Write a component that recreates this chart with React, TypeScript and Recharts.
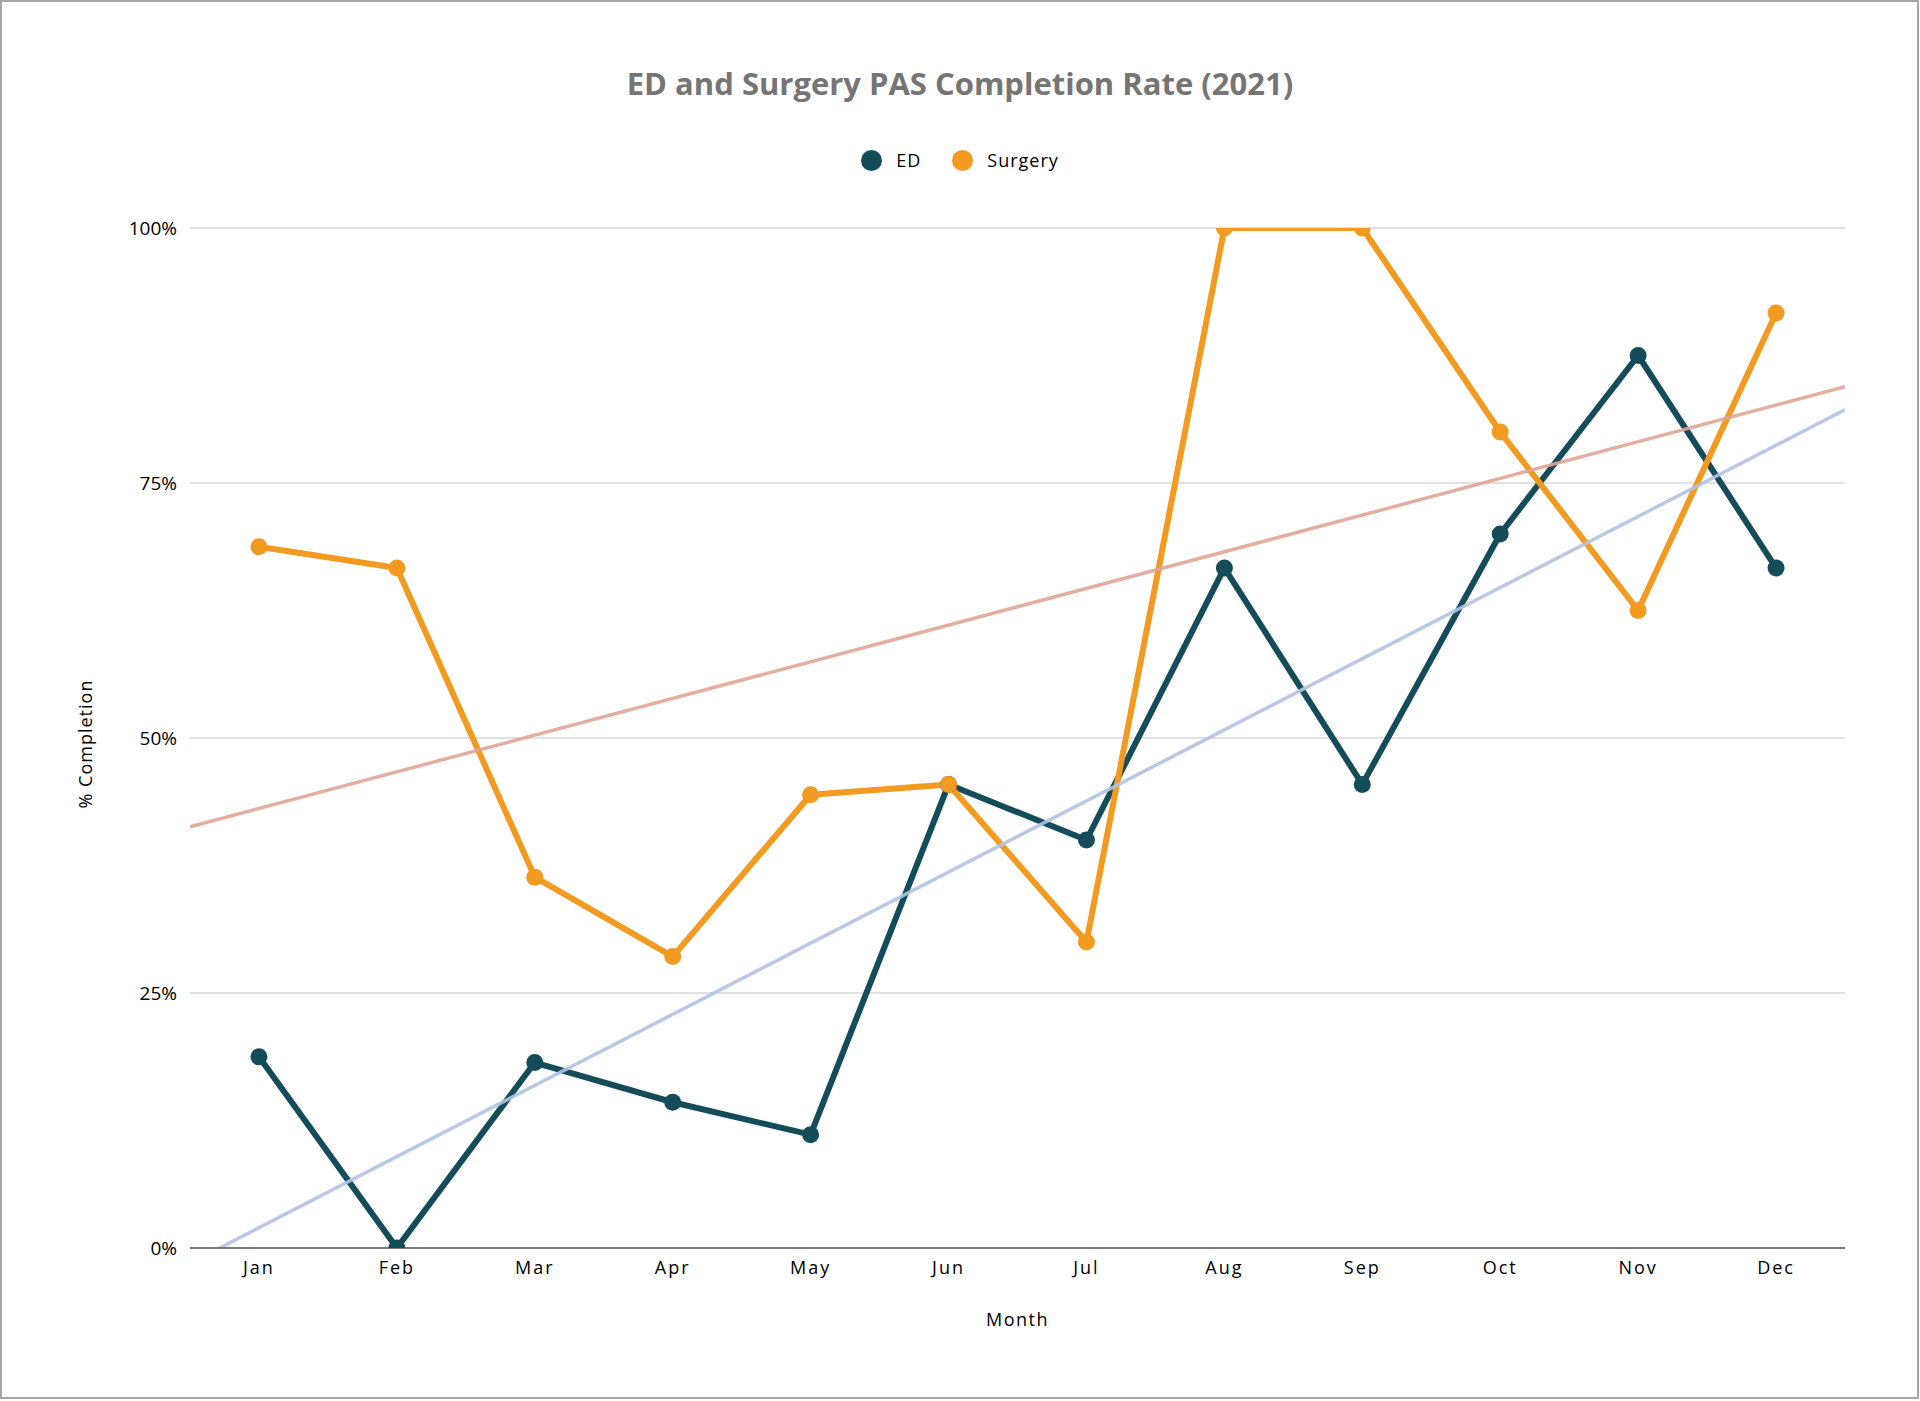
import React from 'react';
import {
  LineChart,
  Line,
  XAxis,
  YAxis,
  CartesianGrid,
  ReferenceLine,
  Legend,
  Label,
} from 'recharts';

const months = ['Jan', 'Feb', 'Mar', 'Apr', 'May', 'Jun', 'Jul', 'Aug', 'Sep', 'Oct', 'Nov', 'Dec'];
const edRates = [18.75, 0, 18.18, 14.29, 11.11, 45.45, 40, 66.67, 45.45, 70, 87.5, 66.67];
const surgeryRates = [68.75, 66.67, 36.36, 28.57, 44.44, 45.45, 30, 100, 100, 80, 62.5, 91.67];
const yTicks = [0, 25, 50, 75, 100];

const TITLE = 'ED and Surgery PAS Completion Rate (2021)';
const ED_COLOR = '#154c59';
const SURGERY_COLOR = '#f39a21';
const ED_TREND_COLOR = '#b0c3e5';
const SURGERY_TREND_COLOR = '#e0a596';
const FONT = "'Open Sans', sans-serif";

const data = months.map((m, i) => ({ idx: i + 1, month: m, ed: edRates[i], surgery: surgeryRates[i] }));

// Linear least-squares trendline (as the spreadsheet trendline), evaluated at the plot edges.
function trend(values: number[]) {
  const n = values.length;
  const xs = values.map((_, i) => i + 1);
  const mx = xs.reduce((a, b) => a + b, 0) / n;
  const my = values.reduce((a, b) => a + b, 0) / n;
  let sxy = 0;
  let sxx = 0;
  for (let i = 0; i < n; i++) {
    sxy += (xs[i] - mx) * (values[i] - my);
    sxx += (xs[i] - mx) * (xs[i] - mx);
  }
  const slope = sxy / sxx;
  const f = (x: number) => my + slope * (x - mx);
  return [
    { x: 0.5, y: f(0.5) },
    { x: n + 0.5, y: f(n + 0.5) },
  ];
}

const edTrend = trend(edRates);
const surgeryTrend = trend(surgeryRates);

const LegendContent = (props: any) => {
  const payload = (props.payload || []).filter((p: any) => p.value === 'ED' || p.value === 'Surgery');
  return (
    <div
      style={{
        display: 'flex',
        justifyContent: 'center',
        alignItems: 'center',
        width: 1920,
        fontFamily: FONT,
        fontSize: 18,
        letterSpacing: 1,
        color: '#000',
      }}
    >
      {payload.map((p: any, i: number) => (
        <div key={p.value} style={{ display: 'flex', alignItems: 'center', marginLeft: i === 0 ? 0 : 31 }}>
          <svg width={21} height={21} style={{ display: 'block' }}>
            <circle cx={10.5} cy={10.5} r={10.5} fill={p.color} />
          </svg>
          <span style={{ marginLeft: 14, lineHeight: '24px' }}>{p.value}</span>
        </div>
      ))}
    </div>
  );
};

export default function App() {
  return (
    <div style={{ position: 'absolute', left: 0, top: 0, width: 1920, height: 1401, background: '#fff' }}>
      <div
        style={{
          position: 'absolute',
          left: 0,
          top: 0,
          width: 1919,
          height: 1399,
          boxSizing: 'border-box',
          border: '2px solid #a6a6a6',
          pointerEvents: 'none',
        }}
      />
      <div
        style={{
          position: 'absolute',
          left: 0,
          top: 62,
          width: 1920,
          textAlign: 'center',
          fontFamily: FONT,
          fontWeight: 700,
          fontSize: 31,
          color: '#757575',
          lineHeight: 'normal',
        }}
      >
        {TITLE}
      </div>
      <LineChart
        width={1920}
        height={1401}
        data={data}
        margin={{ top: 228, right: 75, bottom: 0, left: 0 }}
        style={{ fontFamily: FONT }}
      >
        <CartesianGrid vertical={false} stroke="#d9d9d9" strokeWidth={1.5} />
        <XAxis
          dataKey="idx"
          type="number"
          domain={[0.5, 12.5]}
          ticks={months.map((_, i) => i + 1)}
          interval={0}
          tickFormatter={(v: number) => months[v - 1]}
          height={153}
          tickLine={false}
          tickSize={6}
          tickMargin={7}
          axisLine={{ stroke: '#595959', strokeWidth: 1.5 }}
          tick={{ fill: '#000', fontSize: 18, fontFamily: FONT, letterSpacing: 2 }}
        >
          <Label
            content={(p: any) => {
              const vb = p.viewBox || {};
              return (
                <text
                  x={vb.x + vb.width / 2}
                  y={vb.y + 78}
                  textAnchor="middle"
                  fill="#000"
                  fontSize={18}
                  fontFamily={FONT}
                  letterSpacing={1.5}
                >
                  Month
                </text>
              );
            }}
          />
        </XAxis>
        <YAxis
          type="number"
          domain={[0, 100]}
          ticks={yTicks}
          allowDataOverflow
          width={190}
          tickLine={false}
          axisLine={false}
          tickSize={6}
          tickMargin={7}
          tickFormatter={(v: number) => `${v}%`}
          tick={{ fill: '#000', fontSize: 19, fontFamily: FONT }}
        >
          <Label
            content={(p: any) => {
              const vb = p.viewBox || {};
              const cx = vb.x + 85;
              const cy = vb.y + vb.height / 2 + 6;
              return (
                <text
                  x={cx}
                  y={cy}
                  transform={`rotate(-90 ${cx} ${cy})`}
                  textAnchor="middle"
                  dominantBaseline="central"
                  fill="#000"
                  fontSize={18}
                  fontFamily={FONT}
                  letterSpacing={1}
                >
                  % Completion
                </text>
              );
            }}
          />
        </YAxis>
        <Legend
          verticalAlign="middle"
          align="center"
          layout="horizontal"
          wrapperStyle={{ top: 148, left: 0, width: 1920 }}
          content={<LegendContent />}
        />
        <Line
          dataKey="ed"
          name="ED"
          stroke={ED_COLOR}
          strokeWidth={6}
          strokeLinejoin="round"
          dot={{ r: 8.5, fill: ED_COLOR, stroke: ED_COLOR, strokeWidth: 0 }}
          activeDot={false}
          legendType="circle"
          isAnimationActive={false}
        />
        <Line
          dataKey="surgery"
          name="Surgery"
          stroke={SURGERY_COLOR}
          strokeWidth={6}
          strokeLinejoin="round"
          dot={{ r: 8.5, fill: SURGERY_COLOR, stroke: SURGERY_COLOR, strokeWidth: 0 }}
          activeDot={false}
          legendType="circle"
          isAnimationActive={false}
        />
        <ReferenceLine
          segment={edTrend}
          stroke={ED_TREND_COLOR}
          strokeWidth={3.5}
          strokeOpacity={0.9}
          ifOverflow="hidden"
        />
        <ReferenceLine
          segment={surgeryTrend}
          stroke={SURGERY_TREND_COLOR}
          strokeWidth={3.5}
          strokeOpacity={0.9}
          ifOverflow="hidden"
        />
      </LineChart>
    </div>
  );
}
